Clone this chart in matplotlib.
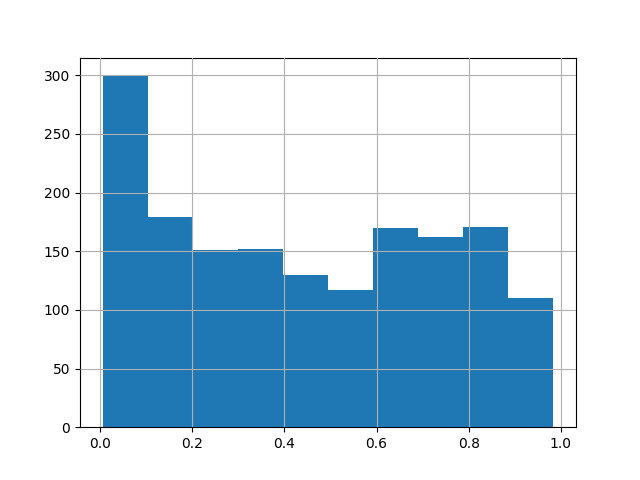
import numpy as np
import matplotlib.pyplot as plt

# histogram range and bin counts
x_min, x_max = 0.005, 0.984
counts = [300, 179, 151, 152, 130, 117, 170, 162, 171, 110]

edges = np.linspace(x_min, x_max, len(counts) + 1)

fig, ax = plt.subplots(figsize=(6.4, 4.8), dpi=100)
ax.hist(edges[:-1], bins=edges, weights=counts, color='#1f77b4')
ax.grid(True)
ax.set_axisbelow(False)
ax.set_xticks([0.0, 0.2, 0.4, 0.6, 0.8, 1.0])

fig.savefig('out.png')
